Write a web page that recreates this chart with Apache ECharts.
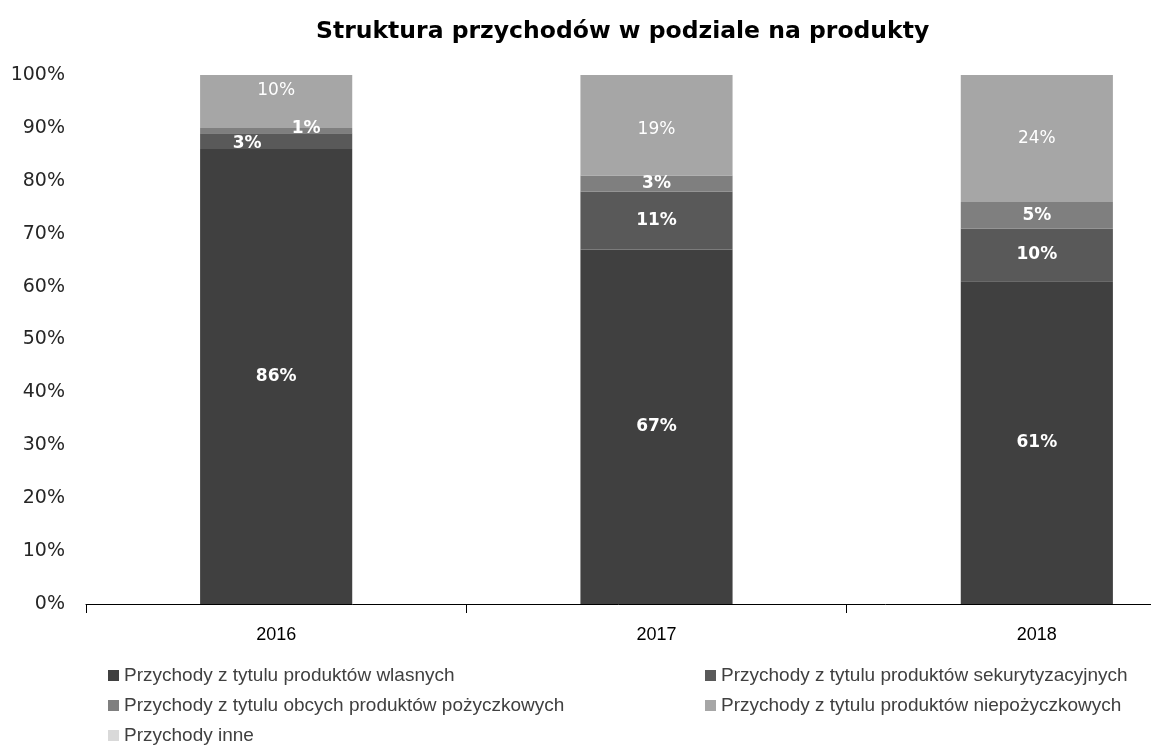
<!DOCTYPE html>
<html>
<head>
<meta charset="utf-8">
<script src="https://cdn.jsdelivr.net/npm/echarts@6/dist/echarts.min.js"></script>
<style>
  html, body { margin: 0; padding: 0; background: #fff; }
  #chart { width: 1151px; height: 745px; }
</style>
</head>
<body>
<div id="chart"></div>
<script>
const years = ['2016', '2017', '2018']
const seriesNames = [
  'Przychody z tytulu produktów wlasnych',
  'Przychody z tytulu produktów sekurytyzacyjnych',
  'Przychody z tytulu obcych produktów pożyczkowych',
  'Przychody z tytulu produktów niepożyczkowych',
  'Przychody inne'
]
const wlasne = [86, 67, 61]
const sekurytyzacyjne = [3, 11, 10]
const obcePozyczkowe = [1, 3, 5]
const niepozyczkowe = [10, 19, 24]
const inne = [0, 0, 0]
const yTicks = [0, 10, 20, 30, 40, 50, 60, 70, 80, 90, 100]

const colors = ['#404040', '#595959', '#7f7f7f', '#a6a6a6', '#d9d9d9']
const values = [wlasne, sekurytyzacyjne, obcePozyczkowe, niepozyczkowe, inne]

// a few labels are nudged like in the original
const labelOffsets = {
  '1-0': [-29, 2],
  '2-0': [30, -2],
  '3-0': [0, -11],
  '3-1': [0, 4]
}

const chart = echarts.init(document.getElementById('chart'))

const series = seriesNames.map((name, i) => ({
  name,
  type: 'bar',
  stack: 'total',
  barWidth: '40%',
  itemStyle: { color: colors[i] },
  label: {
    show: i < 4,
    position: 'inside',
    color: '#fff',
    fontFamily: 'DejaVu Sans',
    fontSize: 17,
    fontWeight: i === 3 ? 'normal' : 'bold',
    formatter: p => p.value + '%'
  },
  data: values[i].map((v, j) => {
    const off = labelOffsets[i + '-' + j]
    return off ? { value: v, label: { offset: off } } : v
  })
}))

const legendText = { fontFamily: 'Liberation Sans', fontSize: 19, color: '#404040' }

chart.setOption({
  animation: false,
  title: {
    text: 'Struktura przychodów w podziale na produkty',
    left: 311,
    top: 15,
    textStyle: {
      fontFamily: 'DejaVu Sans',
      fontSize: 23.5,
      fontWeight: 'bold',
      color: '#000'
    }
  },
  grid: {
    left: 86,
    top: 75,
    bottom: 141,
    width: 1141,
    outerBoundsMode: 'none'
  },
  legend: [
    {
      data: [seriesNames[0], seriesNames[2], seriesNames[4]],
      orient: 'vertical',
      left: 103,
      top: 661,
      height: 100,
      itemGap: 11,
      icon: 'rect',
      itemWidth: 11,
      itemHeight: 11,
      textStyle: legendText
    },
    {
      data: [seriesNames[1], seriesNames[3]],
      orient: 'vertical',
      left: 700,
      top: 661,
      height: 100,
      itemGap: 11,
      icon: 'rect',
      itemWidth: 11,
      itemHeight: 11,
      textStyle: legendText
    }
  ],
  xAxis: {
    type: 'category',
    data: years,
    axisLine: { lineStyle: { color: '#000', width: 1 } },
    axisTick: { show: true, length: 9, lineStyle: { color: '#000' } },
    axisLabel: {
      margin: 22,
      fontFamily: 'Liberation Sans',
      fontSize: 18,
      color: '#000'
    }
  },
  yAxis: {
    type: 'value',
    min: yTicks[0],
    max: yTicks[yTicks.length - 1],
    interval: 10,
    axisLine: { show: false },
    axisTick: { show: false },
    splitLine: { show: false },
    axisLabel: {
      margin: 21,
      fontFamily: 'DejaVu Sans',
      fontSize: 19,
      color: '#262626',
      formatter: '{value}%'
    }
  },
  series
})
</script>
</body>
</html>
